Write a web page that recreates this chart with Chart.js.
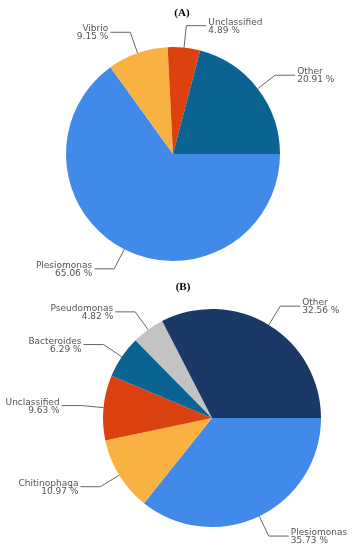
<!DOCTYPE html>
<html lang="en">
<head>
    <meta charset="UTF-8">
    <title>Pie charts A and B</title>
    <script src="https://cdn.jsdelivr.net/npm/chart.js"></script>
    <style>
        body {
            margin: 0;
            padding: 0;
            background-color: #ffffff;
        }

        .panel {
            position: absolute;
            left: 0;
        }

        #panelA {
            top: 0;
        }

        #panelB {
            top: 280px;
        }
    </style>
</head>
<body>
    <div class="panel" id="panelA"><canvas id="chartA" width="356" height="280"></canvas></div>
    <div class="panel" id="panelB"><canvas id="chartB" width="356" height="270"></canvas></div>

    <script>
        // Panel A (slices listed clockwise from 3 o'clock)
        const labelsA = ['Plesiomonas', 'Vibrio', 'Unclassified', 'Other'];
        const valuesA = [65.06, 9.15, 4.89, 20.91];
        const colorsA = ['#418aea', '#f9b142', '#dc4210', '#0b6393'];

        // Panel B
        const labelsB = ['Plesiomonas', 'Chitinophaga', 'Unclassified', 'Bacteroides', 'Pseudomonas', 'Other'];
        const valuesB = [35.73, 10.97, 9.63, 6.29, 4.82, 32.56];
        const colorsB = ['#418aea', '#f9b142', '#dc4210', '#0b6393', '#c3c3c3', '#1a3966'];

        // leader lines + two-line labels, plus the (A)/(B) title
        const leaderLabels = {
            id: 'leaderLabels',
            afterDraw(chart, args, opts) {
                const ctx = chart.ctx;
                const meta = chart.getDatasetMeta(0);
                const values = chart.data.datasets[0].data;
                ctx.save();
                ctx.strokeStyle = '#666666';
                ctx.lineWidth = 1;
                ctx.fillStyle = '#555555';
                ctx.font = '9px "DejaVu Sans", sans-serif';
                meta.data.forEach((arc, i) => {
                    const p = arc.getProps(['x', 'y', 'startAngle', 'endAngle', 'outerRadius'], true);
                    const mid = (p.startAngle + p.endAngle) / 2;
                    const cos = Math.cos(mid);
                    const sin = Math.sin(mid);
                    const x0 = p.x + cos * p.outerRadius;
                    const y0 = p.y + sin * p.outerRadius;
                    const x1 = p.x + cos * (p.outerRadius + 22);
                    const y1 = p.y + sin * (p.outerRadius + 22);
                    const right = cos >= 0;
                    const x2 = x1 + (right ? 20 : -20);
                    ctx.beginPath();
                    ctx.moveTo(x0, y0);
                    ctx.lineTo(x1, y1);
                    ctx.lineTo(x2, y1);
                    ctx.stroke();
                    ctx.textAlign = right ? 'left' : 'right';
                    ctx.textBaseline = 'alphabetic';
                    const tx = x2 + (right ? 2 : -2);
                    ctx.fillText(chart.data.labels[i], tx, y1 - 1);
                    ctx.fillText(values[i].toFixed(2) + ' %', tx, y1 + 7);
                });
                ctx.font = 'bold 11px "Liberation Serif", serif';
                ctx.fillStyle = '#000000';
                ctx.textAlign = 'center';
                ctx.textBaseline = 'middle';
                ctx.fillText(opts.title, opts.titleX, opts.titleY);
                ctx.restore();
            }
        };

        function createPie(id, labels, values, colors, padding, title, titleX, titleY) {
            const ctx = document.getElementById(id).getContext('2d');
            return new Chart(ctx, {
                type: 'pie',
                data: {
                    labels: labels,
                    datasets: [{
                        data: values,
                        backgroundColor: colors,
                        borderWidth: 0,
                        hoverOffset: 0
                    }]
                },
                options: {
                    responsive: false,
                    animation: false,
                    events: [],
                    rotation: 90,
                    layout: { padding: padding },
                    plugins: {
                        legend: { display: false },
                        tooltip: { enabled: false },
                        leaderLabels: { title: title, titleX: titleX, titleY: titleY }
                    }
                },
                plugins: [leaderLabels]
            });
        }

        createPie('chartA', labelsA, valuesA, colorsA, { top: 47, bottom: 19, left: 0, right: 10 }, '(A)', 182, 13);
        createPie('chartB', labelsB, valuesB, colorsB, { top: 29, bottom: 23, left: 68, right: 0 }, '(B)', 183, 7);
    </script>
</body>
</html>
